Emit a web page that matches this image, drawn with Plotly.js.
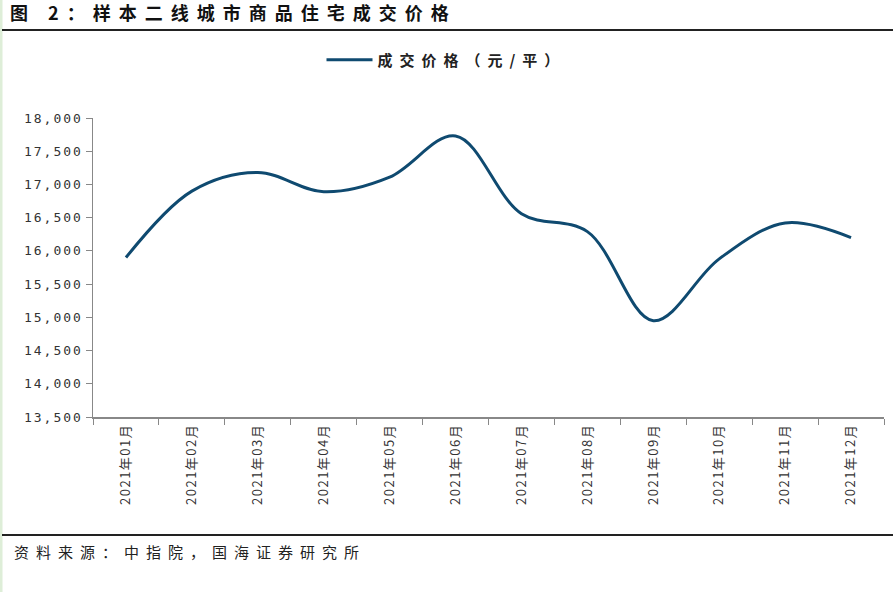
<!DOCTYPE html>
<html>
<head>
<meta charset="utf-8">
<script src="https://cdn.plot.ly/plotly-3.0.1.min.js"></script>
<style>
html,body{margin:0;padding:0;background:#fff;}
#chart{width:893px;height:592px;}
.gtitle{letter-spacing:8px;}
.legendtext{letter-spacing:7px;}
.annotation-text{letter-spacing:7px;}
.ytick text{letter-spacing:2px;}
.xtick text{letter-spacing:1.5px;}
</style>
</head>
<body>
<div id="chart"></div>
<script>
const months = ["2021年01月","2021年02月","2021年03月","2021年04月","2021年05月","2021年06月",
                "2021年07月","2021年08月","2021年09月","2021年10月","2021年11月","2021年12月"];
const prices = [15900, 16900, 17180, 16890, 17110, 17730, 16560, 16290, 14950, 15880, 16420, 16200];
const seriesName = "成交价格（元/平）";
const yTicks = [13500, 14000, 14500, 15000, 15500, 16000, 16500, 17000, 17500, 18000];
const yTickText = ["13,500","14,000","14,500","15,000","15,500","16,000","16,500","17,000","17,500","18,000"];
const chartTitle = "图 2：样本二线城市商品住宅成交价格";
const sourceText = "资料来源：中指院，国海证券研究所";

const W = 893, H = 592;
const L = 93, R = 9, T = 118, B = 175;
const pw = W - L - R, ph = H - T - B;
const px = x => (x - L) / pw;          // pixel -> paper x
const py = y => (H - B - y) / ph;      // pixel -> paper y

const cjk = '"Noto Sans CJK SC", "Noto Sans", sans-serif';

const trace = {
  x: months,
  y: prices,
  type: 'scatter',
  mode: 'lines',
  name: '<b>' + seriesName + '</b>',
  line: {color: '#0f4a70', width: 3, shape: 'spline', smoothing: 1.0}
};

const layout = {
  width: W, height: H,
  margin: {l: L, r: R, t: T, b: B},
  paper_bgcolor: '#ffffff',
  plot_bgcolor: '#ffffff',
  showlegend: true,
  legend: {
    orientation: 'h',
    x: 0.5, xanchor: 'center',
    xref: 'container',
    y: 1 - 60/592, yref: 'container', yanchor: 'middle',
    font: {family: cjk, size: 15, color: '#222'},
    itemwidth: 46,
    bgcolor: 'rgba(0,0,0,0)'
  },
  title: {
    text: '<b>' + chartTitle + '</b>',
    xref: 'container', yref: 'container',
    x: 10/893, xanchor: 'left',
    y: 1 - 14/592, yanchor: 'middle',
    font: {family: cjk, size: 18, color: '#111'}
  },
  xaxis: {
    type: 'category',
    tickangle: -90,
    tickson: 'boundaries',
    ticks: 'outside',
    ticklen: 6,
    tickcolor: '#888',
    showline: true,
    linecolor: '#888',
    linewidth: 1.5,
    showgrid: false,
    zeroline: false,
    tickfont: {family: cjk, size: 13, color: '#333'},
    range: [-0.5, 11.5]
  },
  yaxis: {
    range: [13500, 18000],
    tickvals: yTicks,
    ticktext: yTickText,
    ticks: 'outside',
    ticklen: 6,
    tickcolor: '#888',
    showline: true,
    linecolor: '#888',
    linewidth: 1.5,
    showgrid: false,
    zeroline: false,
    tickfont: {family: '"DejaVu Sans Mono", monospace', size: 13, color: '#333'}
  },
  shapes: [
    {type: 'rect', xref: 'paper', yref: 'paper', x0: px(0), x1: px(2.5), y0: py(H), y1: py(0),
     fillcolor: '#deeed8', line: {width: 0}, layer: 'below'},
    {type: 'line', xref: 'paper', yref: 'paper', x0: px(2), x1: px(W), y0: py(30), y1: py(30),
     line: {color: '#222', width: 2}},
    {type: 'line', xref: 'paper', yref: 'paper', x0: px(2), x1: px(W), y0: py(535), y1: py(535),
     line: {color: '#222', width: 2}}
  ],
  annotations: [
    {text: sourceText, xref: 'paper', yref: 'paper', x: px(12), y: py(551),
     xanchor: 'left', yanchor: 'middle', showarrow: false,
     font: {family: cjk, size: 15, color: '#222'}}
  ]
};

Plotly.newPlot('chart', [trace], layout, {displayModeBar: false, staticPlot: true});
</script>
</body>
</html>
